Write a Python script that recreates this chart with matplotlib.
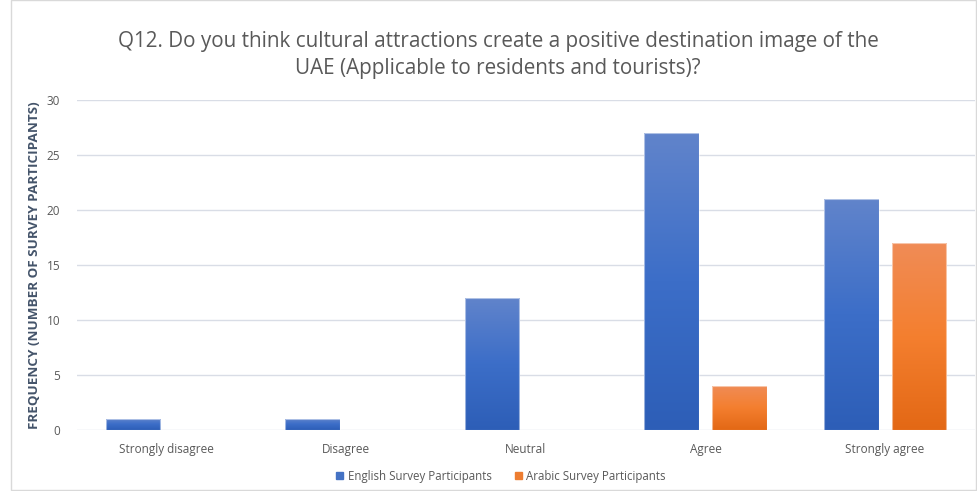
import matplotlib.pyplot as plt
import numpy as np
from matplotlib.colors import LinearSegmentedColormap
from matplotlib.patches import Rectangle

plt.rcParams['font.family'] = ['Open Sans', 'DejaVu Sans']

categories = ['Strongly disagree', 'Disagree', 'Neutral', 'Agree', 'Strongly agree']
english = [1, 1, 12, 27, 21]
arabic = [0, 0, 0, 4, 17]
series_names = ['English Survey Participants', 'Arabic Survey Participants']

fig = plt.figure(figsize=(9.77, 4.91), dpi=100)
ax = fig.add_axes([0.0788, 0.1242, 0.919, 0.6721])

# gradient colour maps (top light, bottom dark)
blue_cm = LinearSegmentedColormap.from_list('b', ['#2d5eb7', '#3c6ec8', '#6184cb'])
orange_cm = LinearSegmentedColormap.from_list('o', ['#e36815', '#f47f2f', '#f08c57'])

x = np.arange(len(categories))
w = 0.305
gap = 0.072
grad = np.linspace(0, 1, 256).reshape(-1, 1)

def gradient_bars(xs, vals, cmap):
    bars = ax.bar(xs, vals, w, color='none', edgecolor='none', zorder=3)
    for b, v in zip(bars, vals):
        if v <= 0:
            continue
        bx, by = b.get_x(), b.get_y()
        im = ax.imshow(grad, cmap=cmap, aspect='auto', origin='lower',
                       extent=[bx, bx + w, by, by + v], zorder=3)
        im.set_clip_path(b)
        ax.add_patch(Rectangle((bx, by), w, v, fill=False,
                               edgecolor='#ffffff', lw=0.8, alpha=0.5, zorder=4))
    return bars

gradient_bars(x - (w + gap) / 2, english, blue_cm)
gradient_bars(x + (w + gap) / 2, arabic, orange_cm)

ax.set_xlim(-0.5, len(categories) - 0.5)
ax.set_ylim(0, 30)
ax.set_yticks(range(0, 31, 5))
ax.set_xticks(x)
ax.set_xticklabels(categories)
ax.tick_params(axis='both', length=0, labelsize=8.5, colors='#595959')
ax.tick_params(axis='x', pad=9)
ax.tick_params(axis='y', pad=12)
ax.yaxis.grid(True, color='#d9dde6', lw=1)
ax.set_axisbelow(True)
for s in ax.spines.values():
    s.set_visible(False)

ax.set_ylabel('FREQUENCY (NUMBER OF SURVEY PARTICIPANTS)', fontsize=9.7,
              fontweight='bold', color='#44546a', labelpad=4)

fig.text(0.51, 0.888, 'Q12. Do you think cultural attractions create a positive destination image of the\nUAE (Applicable to residents and tourists)?',
         ha='center', va='center', fontsize=14.9, color='#595959', linespacing=1.42)

handles = [Rectangle((0, 0), 1, 1, color='#4472c4'), Rectangle((0, 0), 1, 1, color='#ed7d31')]
fig.legend(handles, series_names, loc='center', bbox_to_anchor=(0.513, 0.03), ncol=2,
           frameon=False, fontsize=8.3, handlelength=0.6, handleheight=0.6,
           columnspacing=2.0, handletextpad=0.4, labelcolor='#595959')

# chart frame
fig.patches.append(Rectangle((0.011, 0.003), 0.988, 0.996, transform=fig.transFigure,
                             fill=False, edgecolor='#d9d9d9', lw=1))

fig.savefig('out.png', dpi=100)
